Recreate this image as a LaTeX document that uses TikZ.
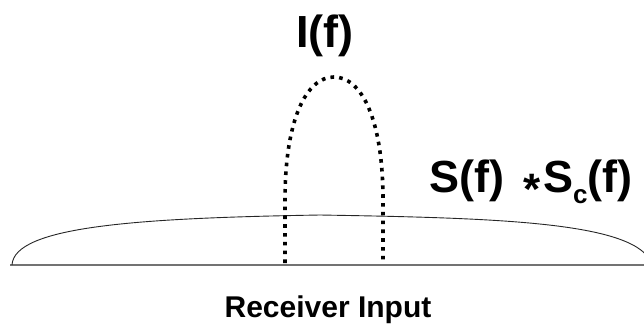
\documentclass[tikz,border=0pt]{standalone}
\usepackage{fontspec}
\setmainfont{Liberation Sans}
\begin{document}
\begin{tikzpicture}[x=1pt,y=-1pt,
  lbl/.style={font=\bfseries, inner sep=0pt, anchor=base},
  axisline/.style={draw=black!55, line width=1.4pt},
  spectrum/.style={draw=black!85, line width=0.9pt},
  interf/.style={draw=black, line width=3.6pt, dash pattern=on 3.6pt off 5.2pt}]
  \useasboundingbox (0,0) rectangle (644,327);
  % frequency axis
  \draw[axisline] (10,265) -- (644,265);
  % wideband spread spectrum
  \begin{scope}
    \clip (0,0) rectangle (644,327);
    \draw[spectrum] (12,265) .. controls (14,226) and (140,218) .. (320,215)
      .. controls (500,218) and (640,222) .. (652,265);
  \end{scope}
  % narrowband interferer
  \draw[interf] (285,263) -- (285,200) .. controls (285,118) and (307,77) .. (334,77)
    .. controls (361,77) and (383,118) .. (383,200) -- (383,263);
  % labels
  \node[lbl, font=\fontsize{45}{50}\selectfont\bfseries] (il) at (325,47) {I(f)};
  \node[lbl, font=\fontsize{45}{50}\selectfont\bfseries, anchor=base west] (sf) at (429,192) {S(f)};
  \node[lbl, font=\fontsize{44}{48}\selectfont\bfseries] (st) at (532,204) {*};
  \node[lbl, font=\fontsize{45}{50}\selectfont\bfseries, anchor=base west] (sc) at (543,192)
    {S\raisebox{-11pt}{\fontsize{26}{28}\selectfont c}(f)};
  \node[lbl, font=\fontsize{30}{34}\selectfont\bfseries] (ri) at (328,317) {Receiver Input};
\end{tikzpicture}
\end{document}
